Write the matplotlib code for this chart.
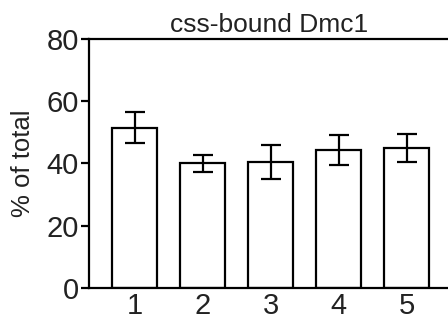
import matplotlib
matplotlib.use("Agg")
import matplotlib.pyplot as plt

plt.rcParams['font.family'] = ['Liberation Sans', 'DejaVu Sans']

categories = ["1", "2", "3", "4", "5"]
values = [51.5, 40.0, 40.5, 44.2, 44.9]
errors = [5.0, 2.7, 5.4, 4.8, 4.5]
yticks = [0, 20, 40, 60, 80]

fig = plt.figure(figsize=(4.48, 3.21), dpi=100)
ax = fig.add_axes([0.199, 0.103, 0.801, 0.776])
x = list(range(1, len(categories) + 1))
ax.bar(x, values, width=0.66, color='white', edgecolor='black', linewidth=1.6, zorder=2)
ax.errorbar(x, values, yerr=errors, fmt='none', ecolor='black', elinewidth=1.6,
            capsize=7.5, capthick=1.6, zorder=3)
ax.set_xlim(0.33, 5.61)
ax.set_ylim(0, 80)
ax.set_yticks(yticks)
ax.set_xticks(x)
ax.set_xticklabels(categories)
ax.tick_params(axis='y', direction='out', length=5.5, width=1.6, labelsize=21, pad=2)
ax.tick_params(axis='x', length=0, labelsize=21, pad=3)
for lab in ax.get_yticklabels() + ax.get_xticklabels():
    lab.set_color('#222222')
ax.spines['right'].set_visible(False)
for s in ['left', 'bottom', 'top']:
    ax.spines[s].set_linewidth(1.6)
ax.set_ylabel('% of total', fontsize=18.5, color='#222222', labelpad=8)
ax.set_title('css-bound Dmc1', fontsize=19, color='#222222', pad=5)
fig.savefig('out.png', dpi=100)
